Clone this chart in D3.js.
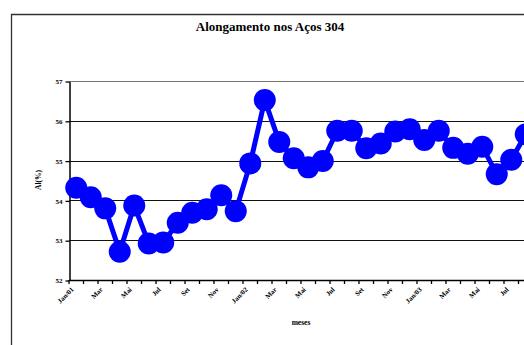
<!DOCTYPE html>
<html>
<head>
<meta charset="utf-8">
<script src="https://cdn.jsdelivr.net/npm/d3@7"></script>
<style>
  body { margin: 0; background: #fff; }
  svg { display: block; font-family: "Liberation Serif", "Times New Roman", serif; }
</style>
</head>
<body>
<div id="my_chart"></div>
<script>
// months (category axis) and values
var months = ["Jan/01", "Fev", "Mar", "Abr", "Mai", "Jun", "Jul", "Ago", "Set", "Out", "Nov", "Dez",
              "Jan/02", "Fev", "Mar", "Abr", "Mai", "Jun", "Jul", "Ago", "Set", "Out", "Nov", "Dez",
              "Jan/03", "Fev", "Mar", "Abr", "Mai", "Jun", "Jul", "Ago"];
var alongamento = [54.32, 54.08, 53.80, 52.71, 53.87, 52.92, 52.94, 53.44, 53.69, 53.78, 54.13, 53.73,
                   54.93, 56.52, 55.47, 55.06, 54.83, 54.99, 55.75, 55.75, 55.31, 55.43, 55.73, 55.79,
                   55.52, 55.75, 55.32, 55.17, 55.35, 54.66, 55.02, 55.66];
var yTicks = [52, 53, 54, 55, 56, 57];

var width = 524, height = 345;
var plot = {left: 69, top: 81, bottom: 280, right: 69 + 32 * 14.5};

var svg = d3.select("#my_chart")
  .append("svg")
    .attr("width", width)
    .attr("height", height);

svg.append("rect").attr("width", width).attr("height", height).attr("fill", "#fff");

// chart frame (cut on the right, like the original)
svg.append("path")
  .attr("d", "M11.5," + height + "V14.5H" + (width + 2))
  .attr("fill", "none")
  .attr("stroke", "#333")
  .attr("stroke-width", 1.3);

// title
svg.append("text")
  .attr("x", 270).attr("y", 31)
  .attr("text-anchor", "middle")
  .style("font-size", "13px").style("font-weight", "bold")
  .text("Alongamento nos Aços 304");

// scales
var idx = d3.range(alongamento.length);
var x = d3.scaleBand()
  .domain(idx)
  .range([plot.left, plot.right]);

var y = d3.scaleLinear()
  .domain([52, 57])
  .range([plot.bottom, plot.top]);

// gridlines
svg.append("g")
  .selectAll("line")
  .data(yTicks.slice(1))
  .enter()
  .append("line")
    .attr("x1", plot.left).attr("x2", width)
    .attr("y1", function(d) { return Math.round(y(d)) + 0.5 })
    .attr("y2", function(d) { return Math.round(y(d)) + 0.5 })
    .attr("stroke", function(d) { return d == 57 ? "#777" : "#111" })
    .attr("stroke-width", 1.2);

// y axis
var yAxis = svg.append("g")
  .attr("transform", "translate(" + (plot.left + 0.5) + ",0.5)")
  .call(d3.axisLeft(y).tickValues(yTicks).tickSize(4).tickSizeOuter(0).tickPadding(3).tickFormat(d3.format("d")));
yAxis.select(".domain").attr("stroke", "#000").attr("stroke-width", 1.5);
yAxis.selectAll(".tick line").attr("stroke", "#000").attr("stroke-width", 1.3);
yAxis.selectAll("text")
  .style("font-family", "Liberation Serif, serif")
  .style("font-size", "7px").style("font-weight", "bold").attr("fill", "#000");

// x axis: ticks between categories, label every second month
svg.append("line")
  .attr("x1", plot.left).attr("x2", width)
  .attr("y1", plot.bottom + 0.5).attr("y2", plot.bottom + 0.5)
  .attr("stroke", "#000").attr("stroke-width", 1.5);

svg.append("g")
  .selectAll("line")
  .data(d3.range(alongamento.length + 1))
  .enter()
  .append("line")
    .attr("x1", function(d) { return plot.left + d * x.bandwidth() })
    .attr("x2", function(d) { return plot.left + d * x.bandwidth() })
    .attr("y1", plot.bottom).attr("y2", plot.bottom + 4)
    .attr("stroke", "#000").attr("stroke-width", 1.3);

svg.append("g")
  .selectAll("text")
  .data(idx.filter(function(i) { return i % 2 == 0 }))
  .enter()
  .append("text")
    .attr("transform", function(i) {
      return "translate(" + (x(i) + x.bandwidth() / 2 - 2) + "," + (plot.bottom + 10) + ") rotate(-45)";
    })
    .attr("text-anchor", "end")
    .style("font-size", "7px").style("font-weight", "bold")
    .text(function(i) { return months[i] });

// axis titles
svg.append("text")
  .attr("x", 301).attr("y", 325)
  .attr("text-anchor", "middle")
  .style("font-size", "7.5px").style("font-weight", "bold")
  .text("meses");

svg.append("text")
  .attr("transform", "translate(41,180) rotate(-90)")
  .attr("text-anchor", "middle")
  .style("font-size", "7.5px").style("font-weight", "bold")
  .text("Al(%)");

// series
var line = d3.line()
  .x(function(d, i) { return x(i) + x.bandwidth() / 2 })
  .y(function(d) { return y(d) });

svg.append("path")
  .datum(alongamento)
  .attr("d", line)
  .attr("fill", "none")
  .attr("stroke", "#0000ff")
  .attr("stroke-width", 5)
  .attr("stroke-linejoin", "round");

svg.append("g")
  .selectAll("circle")
  .data(alongamento)
  .enter()
  .append("circle")
    .attr("cx", function(d, i) { return x(i) + x.bandwidth() / 2 })
    .attr("cy", function(d) { return y(d) })
    .attr("r", 11)
    .attr("fill", "#0000ff");
</script>
</body>
</html>
